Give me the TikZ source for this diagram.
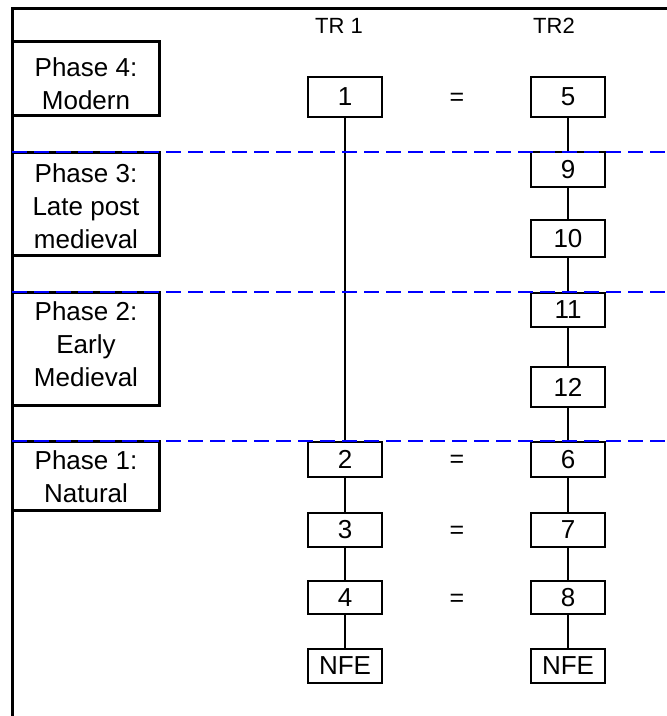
\documentclass[tikz,border=0pt]{standalone}
\usepackage{fontspec}
\setmainfont{Liberation Sans}
\begin{document}
\begin{tikzpicture}[x=1pt,y=-1pt,
  frame/.style={line width=3pt},
  phasebox/.style={draw, line width=3pt, minimum width=147pt, inner sep=0pt},
  phasetext/.style={align=center, inner sep=0pt, font=\fontsize{26}{33}\selectfont},
  unitbox/.style={draw, line width=2.4pt, minimum width=74pt, inner sep=0pt, font=\fontsize{26}{30}\selectfont},
  eqsign/.style={inner sep=0pt, font=\fontsize{25}{30}\selectfont},
  colhead/.style={inner sep=0pt, font=\fontsize{22}{26}\selectfont},
  link/.style={line width=1.8pt},
  phaseline/.style={blue, line width=2pt, dash pattern=on 15pt off 7pt}]
\useasboundingbox (0,0) rectangle (667,716);
% frame
\coordinate (tl) at (12.5,8);
\coordinate (tr) at (667,8);
\coordinate (bl) at (12.5,716);
\draw[frame, line join=miter] (tr) -- (tl) -- (bl);
% column headings
\node[colhead] (h1) at (339,26) {TR 1};
\node[colhead] (h2) at (554,26) {TR2};
% phase boxes
\node[phasebox, minimum height=74pt]  (p4) at (86,78) {};
\node[phasebox, minimum height=103pt] (p3) at (86,203.5) {};
\node[phasebox, minimum height=113pt] (p2) at (86,348.5) {};
\node[phasebox, minimum height=69pt]  (p1) at (86,475.5) {};
\node[phasetext] (p4t) at (86,84) {Phase 4:\\Modern};
\node[phasetext] (p3t) at (86,206) {Phase 3:\\Late post\\medieval};
\node[phasetext] (p2t) at (86,344.5) {Phase 2:\\Early\\Medieval};
\node[phasetext] (p1t) at (86,476.5) {Phase 1:\\Natural};
% TR1 column
\node[unitbox, minimum height=40pt] (u1) at (345,97) {1};
\node[unitbox, minimum height=35pt] (u2) at (345,459.5) {2};
\node[unitbox, minimum height=34pt] (u3) at (345,530) {3};
\node[unitbox, minimum height=33pt] (u4) at (345,597.5) {4};
\node[unitbox, minimum height=34pt] (n1) at (345,666) {NFE};
% TR2 column
\node[unitbox, minimum height=40pt] (u5) at (568,97) {5};
\node[unitbox, minimum height=35pt] (u9) at (568,169.5) {9};
\node[unitbox, minimum height=37pt] (u10) at (568,238.5) {10};
\node[unitbox, minimum height=34pt] (u11) at (568,310) {11};
\node[unitbox, minimum height=40pt] (u12) at (568,387) {12};
\node[unitbox, minimum height=35pt] (u6) at (568,459.5) {6};
\node[unitbox, minimum height=34pt] (u7) at (568,530) {7};
\node[unitbox, minimum height=33pt] (u8) at (568,597.5) {8};
\node[unitbox, minimum height=34pt] (n2) at (568,666) {NFE};
% equals
\node[eqsign] (e1) at (457,99) {=};
\node[eqsign] (e2) at (457,461) {=};
\node[eqsign] (e3) at (457,532) {=};
\node[eqsign] (e4) at (457,600) {=};
% links
\draw[link] (u1) -- (u2);
\draw[link] (u2) -- (u3);
\draw[link] (u3) -- (u4);
\draw[link] (u4) -- (n1);
\draw[link] (u5) -- (u9);
\draw[link] (u9) -- (u10);
\draw[link] (u10) -- (u11);
\draw[link] (u11) -- (u12);
\draw[link] (u12) -- (u6);
\draw[link] (u6) -- (u7);
\draw[link] (u7) -- (u8);
\draw[link] (u8) -- (n2);
% phase dividers
\coordinate (d3a) at (12,152);  \coordinate (d3b) at (667,152);
\coordinate (d2a) at (12,292);  \coordinate (d2b) at (667,292);
\coordinate (d1a) at (12,441);  \coordinate (d1b) at (667,441);
\draw[phaseline] (d3a) -- (d3b);
\draw[phaseline] (d2a) -- (d2b);
\draw[phaseline] (d1a) -- (d1b);
\end{tikzpicture}
\end{document}
